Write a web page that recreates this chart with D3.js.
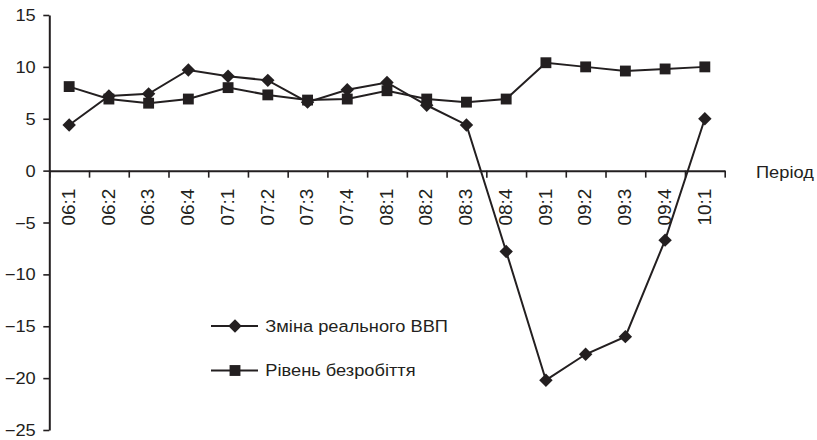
<!DOCTYPE html>
<html>
<head>
<meta charset="utf-8">
<script src="https://cdn.jsdelivr.net/npm/d3@7"></script>
<style>
  html, body { margin: 0; padding: 0; background: #fff; }
  svg { display: block; }
  text { font-family: "Liberation Sans", Arial, Helvetica, sans-serif; fill: #231f20; }
</style>
</head>
<body>
<svg id="chart" width="817" height="440"></svg>
<script>
// Quarterly periods (year:quarter)
const periods = ["06:1","06:2","06:3","06:4","07:1","07:2","07:3","07:4",
                 "08:1","08:2","08:3","08:4","09:1","09:2","09:3","09:4","10:1"];

// Real GDP change, %
const gdpChange = [4.4, 7.2, 7.4, 9.7, 9.1, 8.7, 6.6, 7.8,
                   8.5, 6.3, 4.4, -7.8, -20.2, -17.7, -16.0, -6.7, 5.0];

// Unemployment rate, %
const unemployment = [8.1, 6.9, 6.5, 6.9, 8.0, 7.3, 6.8, 6.9,
                      7.7, 6.9, 6.6, 6.9, 10.4, 10.0, 9.6, 9.8, 10.0];

const yTicks = [-25, -20, -15, -10, -5, 0, 5, 10, 15];

const seriesNames = ["Зміна реального ВВП", "Рівень безробіття"];
const axisTitle = "Період";

const ink = "#231f20";
const stretch = 1.12;   // horizontal widening of the upright text

const svg = d3.select("#chart");

const x0 = 49.3, x1 = 724.7;
const x = d3.scaleBand().domain(periods).range([x0, x1]).padding(0);
const xEdges = d3.scaleLinear().domain([0, periods.length]).range([x0, x1]);
const y = d3.scaleLinear().domain([-25, 15]).range([430, 15]);

// Y axis
const yAxis = svg.append("g")
  .attr("transform", `translate(${x0},0)`)
  .call(d3.axisLeft(y).tickValues(yTicks).tickSizeInner(6).tickSizeOuter(0).tickPadding(0));
yAxis.select(".domain").attr("stroke", ink).attr("stroke-width", 2);
yAxis.selectAll(".tick line").attr("stroke", ink).attr("stroke-width", 1.6);
yAxis.selectAll(".tick text")
  .attr("x", -13.6 / stretch)
  .attr("dy", "0.34em")
  .attr("transform", `scale(${stretch},1)`)
  .style("font-size", "16.3px")
  .style("fill", ink);

// X axis on the zero line: ticks mark the period boundaries
const xAxis = svg.append("g")
  .attr("transform", `translate(0,${y(0)})`)
  .call(d3.axisBottom(xEdges).tickValues(d3.range(periods.length + 1))
        .tickFormat("").tickSizeInner(7).tickSizeOuter(0));
xAxis.select(".domain").attr("stroke", ink).attr("stroke-width", 2);
xAxis.selectAll(".tick line").attr("stroke", ink).attr("stroke-width", 1.6);

// Period labels, rotated
const xLab = svg.append("g")
  .attr("transform", `translate(0,${y(0)})`)
  .call(d3.axisBottom(x).tickSize(0).tickPadding(0));
xLab.select(".domain").remove();
xLab.selectAll(".tick text")
  .attr("transform", "rotate(-90)")
  .attr("x", -18)
  .attr("y", 0)
  .attr("dy", "0.3em")
  .attr("text-anchor", "end")
  .style("font-size", "19px")
  .style("fill", ink);

// Axis title
svg.append("g")
  .attr("transform", `translate(756,${y(0) + 7.5}) scale(${stretch},1)`)
  .append("text")
  .style("font-size", "16.3px")
  .text(axisTitle);

const line = d3.line().x((d, i) => x(periods[i]) + x.bandwidth() / 2).y(d => y(d));

const diamond = d3.symbol().type(d3.symbolSquare).size(90)();
const square = d3.symbol().type(d3.symbolSquare).size(118)();

// Unemployment series
svg.append("path").datum(unemployment)
  .attr("d", line).attr("fill", "none").attr("stroke", ink).attr("stroke-width", 2);
svg.append("g").selectAll("path").data(unemployment).join("path")
  .attr("d", square)
  .attr("transform", (d, i) => `translate(${x(periods[i]) + x.bandwidth() / 2},${y(d)})`)
  .attr("fill", ink);

// GDP series
svg.append("path").datum(gdpChange)
  .attr("d", line).attr("fill", "none").attr("stroke", ink).attr("stroke-width", 2);
svg.append("g").selectAll("path").data(gdpChange).join("path")
  .attr("d", diamond)
  .attr("transform", (d, i) => `translate(${x(periods[i]) + x.bandwidth() / 2},${y(d)}) rotate(45)`)
  .attr("fill", ink);

// Legend
const legendRows = [
  { name: seriesNames[0], shape: diamond, rot: 45, y: 326 },
  { name: seriesNames[1], shape: square, rot: 0, y: 370.5 }
];
const lg = svg.append("g").selectAll("g").data(legendRows).join("g")
  .attr("transform", d => `translate(0,${d.y})`);
lg.append("line").attr("x1", 211).attr("x2", 258).attr("y1", 0).attr("y2", 0)
  .attr("stroke", ink).attr("stroke-width", 2);
lg.append("path").attr("d", d => d.shape)
  .attr("transform", d => `translate(235,0) rotate(${d.rot})`)
  .attr("fill", ink);
lg.append("g").attr("transform", `translate(265.3,0) scale(${stretch},1)`)
  .append("text").attr("dy", "0.35em")
  .style("font-size", "16.3px")
  .text(d => d.name);
</script>
</body>
</html>
